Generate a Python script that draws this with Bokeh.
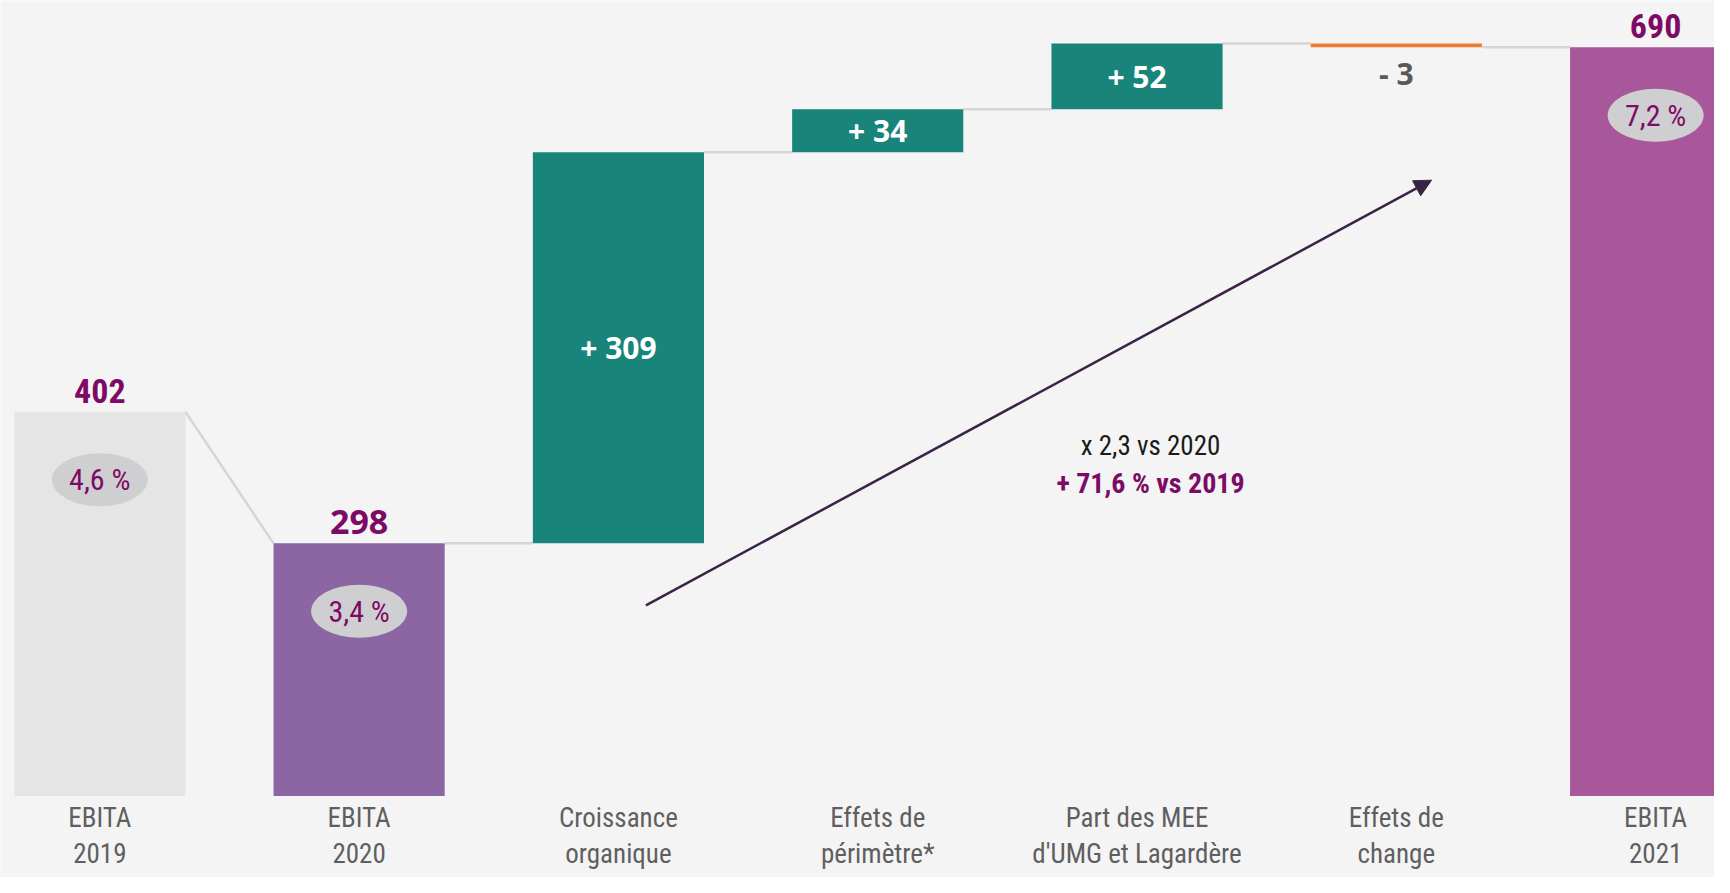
from bokeh.plotting import figure
from bokeh.models import Range1d, Arrow, NormalHead
from bokeh.core.properties import value
from bokeh.embed import file_html
from bokeh.resources import INLINE

# ---------------- data ----------------
categories = ["EBITA\n2019", "EBITA\n2020", "Croissance\norganique",
              "Effets de\npérimètre*", "Part des MEE\nd'UMG et Lagardère",
              "Effets de\nchange", "EBITA\n2021"]
total_idx = [0, 1, 6]
total_values = [402, 298, 690]
total_margins = ["4,6 %", "3,4 %", "7,2 %"]
delta_idx = [2, 3, 4, 5]
delta_values = [309, 34, 52, -3]
delta_labels = ["+ 309", "+ 34", "+ 52", "- 3"]
note_line1 = "x 2,3 vs 2020"
note_line2 = "+ 71,6 % vs 2019"

# ---------------- styling / layout ----------------
BG = "#f4f4f4"
TOTAL_COLORS = ["#e5e5e5", "#8c65a3", "#a8579b"]
TOTAL_FONTS = ["Roboto Condensed", "Open Sans", "Roboto Condensed"]
UP = "#18847a"
DOWN = "#ed7d31"
PURPLE = "#7d0b66"
GREY_TXT = "#5f5f5f"
NARROW = value("Roboto Condensed")
BOLD_FONT = value("Open Sans")
BASE = 98.3          # value at the bottom edge of the bars
PX = 1.2653          # pixels per unit
BAR_W = 0.66

p = figure(width=1714, height=877, output_backend="svg", toolbar_location=None,
           x_range=Range1d(-0.383, 6.227), y_range=Range1d(33.9, 727.0),
           min_border=0, background_fill_color=BG, border_fill_color=BG,
           outline_line_color=None)
p.axis.visible = False
p.grid.visible = False

# ---- waterfall geometry from data ----
start_level = {}
end_level = {}
for i, v in zip(total_idx, total_values):
    start_level[i] = v
    end_level[i] = v
running = total_values[1]
d_bottom, d_top, d_col, d_mid = [], [], [], []
for i, d in zip(delta_idx, delta_values):
    start_level[i] = running
    nxt = running + d
    end_level[i] = nxt
    d_bottom.append(min(running, nxt))
    d_top.append(max(running, nxt))
    d_col.append(UP if d >= 0 else DOWN)
    d_mid.append((running + nxt) / 2)
    running = nxt

# connectors
cx0, cx1, cy0, cy1 = [], [], [], []
for i in range(len(categories) - 1):
    cx0.append(i + BAR_W / 2)
    cx1.append(i + 1 - BAR_W / 2)
    cy0.append(end_level[i])
    cy1.append(start_level[i + 1])
p.segment(x0=cx0, y0=cy0, x1=cx1, y1=cy1, line_color="#d6d6d6", line_width=2.5)

# total bars
p.vbar(x=total_idx, bottom=BASE, top=total_values, width=BAR_W,
       fill_color=TOTAL_COLORS, line_color=None)
# delta bars
p.vbar(x=delta_idx, bottom=d_bottom, top=d_top, width=BAR_W,
       fill_color=d_col, line_color=None)

# total value labels
p.text(x=total_idx, y=total_values, text=[str(v) for v in total_values],
       text_align="center", text_baseline="middle", y_offset=-21,
       text_font=TOTAL_FONTS, text_font_style="bold", text_font_size="34px",
       text_color=PURPLE)

# margin ellipses
ell_y = [v - 68 / PX for v in total_values]
p.ellipse(x=total_idx, y=ell_y, width=96, height=53, width_units="screen",
          height_units="screen", fill_color="#cfcfd1", line_color=None)
p.text(x=total_idx, y=ell_y, text=total_margins, text_align="center",
       text_baseline="middle", text_font=NARROW, text_font_size="30px",
       text_color=PURPLE)

# delta labels
pos = [k for k, d in enumerate(delta_values) if d >= 0]
neg = [k for k, d in enumerate(delta_values) if d < 0]
p.text(x=[delta_idx[k] for k in pos], y=[d_mid[k] for k in pos],
       text=[delta_labels[k] for k in pos], text_align="center",
       text_baseline="middle", text_font=BOLD_FONT, text_font_style="bold",
       text_font_size="30px", text_color="white")
p.text(x=[delta_idx[k] for k in neg], y=[d_bottom[k] for k in neg],
       text=[delta_labels[k] for k in neg], text_align="center",
       text_baseline="middle", y_offset=26, text_font=BOLD_FONT,
       text_font_style="bold", text_font_size="30px", text_color="#595959")

# category labels
p.text(x=list(range(len(categories))), y=[BASE] * len(categories),
       text=categories, text_align="center", text_baseline="middle",
       y_offset=40, text_line_height=1.1, text_font=NARROW,
       text_font_size="27px", text_color=GREY_TXT)

# growth arrow + note
p.add_layout(Arrow(x_start=2.106, y_start=249, x_end=5.136, y_end=585,
                   line_color="#3b2346", line_width=2.5,
                   end=NormalHead(size=17, fill_color="#3b2346",
                                  line_color="#3b2346")))
p.text(x=[4.052], y=[375], text=[note_line1], text_align="center",
       text_baseline="middle", text_font=NARROW,
       text_font_size="27px", text_color="#1a1a1a")
p.text(x=[4.052], y=[345], text=[note_line2], text_align="center",
       text_baseline="middle", text_font=NARROW, text_font_style="bold",
       text_font_size="28px", text_color=PURPLE)

open("out.html", "w").write(file_html(p, INLINE))
